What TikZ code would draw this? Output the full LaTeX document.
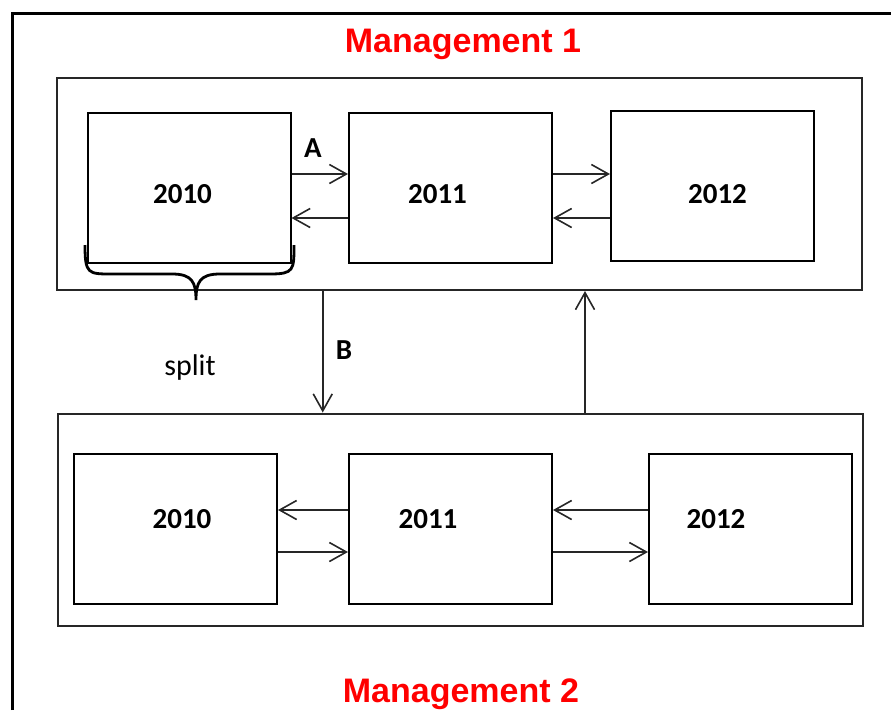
\documentclass[tikz,border=0pt]{standalone}
\usepackage{fontspec}
\setmainfont{Carlito}
\newfontfamily\titlefont{Liberation Sans}
\usetikzlibrary{arrows.meta,calc,positioning}

\tikzset{
  yearbox/.style={draw, line width=2pt, minimum width=203pt, minimum height=150pt, inner sep=0pt},
  yeartext/.style={font=\fontsize{29}{32}\selectfont\bfseries},
  group/.style={draw, line width=2pt, draw=black!85, minimum width=805pt, minimum height=212pt, inner sep=0pt},
  arr/.style={-{Straight Barb[length=17pt,width=19pt]}, line width=1.6pt, draw=black!85},
  title/.style={text=red, font=\titlefont\fontsize{34}{38}\selectfont\bfseries},
  tag/.style={font=\fontsize{29}{32}\selectfont\bfseries},
}

\begin{document}
\begin{tikzpicture}[x=1pt,y=-1pt]
\useasboundingbox (0,0) rectangle (891,710);
% The outer frame runs off the page to the right and at the bottom
\draw[line width=3pt] (12,710) -- (12,13) -- (891,13);
% The two groups, one for each management
\node[group] (m1) at (459.5,184) {};
\node[group] (m2) at (460,519.5) {};
% Years of the first management
\node[yearbox] (u10) at (189,188) {};
\node[yearbox] (u11) at (450.5,188) {};
\node[yearbox] (u12) at (712.5,186) {};
\node[yeartext] (u10t) at (182.5,194) {2010};
\node[yeartext] (u11t) at (437.5,194) {2011};
\node[yeartext] (u12t) at (717.5,194) {2012};
% Years of the second management
\node[yearbox] (l10) at (175.5,529) {};
\node[yearbox] (l11) at (450.5,529) {};
\node[yearbox] (l12) at (750.5,529) {};
\node[yeartext] (l10t) at (182,519) {2010};
\node[yeartext] (l11t) at (428,519) {2011};
\node[yeartext] (l12t) at (716,519) {2012};
% Titles
\node[title, anchor=base] (t1) at (463,52) {Management 1};
\node[title, anchor=base] (t2) at (461,702) {Management 2};
% Arrows between the years, upper row
\draw[arr] ([yshift=14pt]u10.east) -- ([yshift=14pt]u11.west);
\draw[arr] ([yshift=-30pt]u11.west) -- ([yshift=-30pt]u10.east);
\draw[arr] ([yshift=14pt]u11.east) -- ([yshift=14pt]u11.east -| u12.west);
\draw[arr] ([yshift=-30pt]u11.east -| u12.west) -- ([yshift=-30pt]u11.east);
\node[tag] (la) at (313,148) {A};
% Arrows between the years, lower row
\draw[arr] ([yshift=19pt]l11.west) -- ([yshift=19pt]l10.east);
\draw[arr] ([yshift=-23pt]l10.east) -- ([yshift=-23pt]l11.west);
\draw[arr] ([yshift=19pt]l12.west) -- ([yshift=19pt]l11.east);
\draw[arr] ([yshift=-23pt]l11.east) -- ([yshift=-23pt]l12.west);
% Arrows between the two groups
\coordinate (bx) at ($(u10.east)!.5!(u11.west)+(3,0)$);
\coordinate (ux) at ($(u11.east)!.5!(u12.west)+(3.5,0)$);
\draw[arr] (m1.south -| bx) -- (m2.north -| bx);
\draw[arr] (m2.north -| ux) -- (m1.south -| ux);
\node[tag] (lb) at (344,350) {B};
% The brace under the first 2010
\coordinate (tip) at (196,300);
\draw[line width=2.8pt] (85,245) .. controls (85,274) and (88,274) .. (112,274) -- (172,274)
  .. controls (192,274) and (196,282) .. (tip)
  .. controls (196,282) and (200,274) .. (220,274) -- (270,274)
  .. controls (294,274) and (294,270) .. (294,245);
\node[font=\fontsize{30}{34}\selectfont, anchor=base] (split) at (190,375) {split};
\end{tikzpicture}
\end{document}
